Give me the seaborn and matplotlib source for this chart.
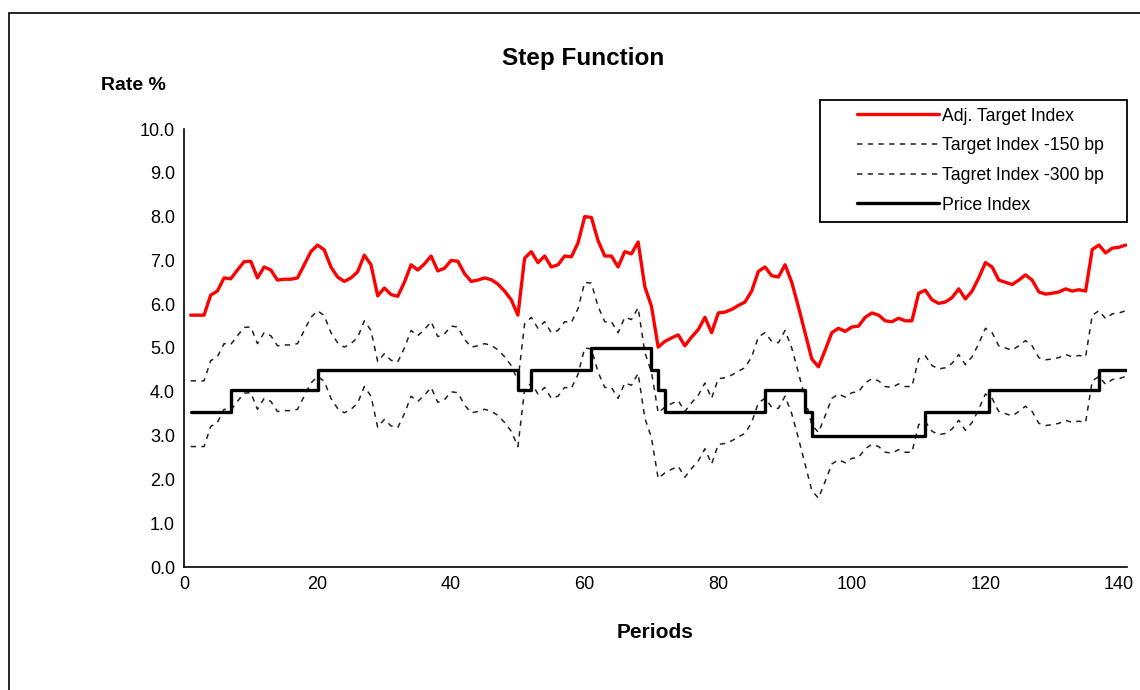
import matplotlib
matplotlib.use("Agg")
import matplotlib.pyplot as plt
from matplotlib.patches import Rectangle
import numpy as np
import pandas as pd
import seaborn as sns

# ---------------- data ----------------
periods = list(range(1, 142))
adj_target = [
    5.75, 5.75, 5.75, 6.21, 6.30, 6.60, 6.58, 6.78, 6.97, 6.98,
    6.60, 6.85, 6.78, 6.55, 6.57, 6.57, 6.60, 6.90, 7.20, 7.35,
    7.24, 6.85, 6.62, 6.52, 6.60, 6.74, 7.12, 6.90, 6.19, 6.37,
    6.22, 6.18, 6.50, 6.90, 6.78, 6.92, 7.10, 6.76, 6.82, 7.00,
    6.98, 6.70, 6.52, 6.55, 6.60, 6.56, 6.46, 6.30, 6.10, 5.75,
    7.05, 7.20, 6.95, 7.10, 6.85, 6.90, 7.10, 7.08, 7.40, 8.00,
    7.98, 7.45, 7.10, 7.10, 6.85, 7.20, 7.15, 7.42, 6.40, 5.95,
    5.02, 5.15, 5.23, 5.30, 5.05, 5.25, 5.42, 5.70, 5.35, 5.80,
    5.82, 5.88, 5.97, 6.05, 6.30, 6.75, 6.85, 6.65, 6.62, 6.90,
    6.50, 5.94, 5.34, 4.75, 4.57, 4.95, 5.35, 5.45, 5.38, 5.48,
    5.50, 5.70, 5.80, 5.75, 5.62, 5.60, 5.68, 5.62, 5.62, 6.25,
    6.32, 6.10, 6.02, 6.05, 6.15, 6.35, 6.12, 6.30, 6.60, 6.95,
    6.85, 6.55, 6.50, 6.45, 6.55, 6.67, 6.55, 6.28, 6.23, 6.25,
    6.28, 6.35, 6.30, 6.33, 6.30, 7.25, 7.35, 7.17, 7.28, 7.30,
    7.35,
]
spread_bp = [150, 300]
price_change_periods = [1, 7, 20, 50, 52, 61, 70, 71, 72, 87, 93, 94, 111, 120.5, 137, 141]
price_levels = [3.55, 4.05, 4.50, 4.05, 4.50, 5.00, 4.50, 4.05, 3.55, 4.05, 3.55, 3.00, 3.55, 4.05, 4.50, 4.50]

labels = ["Adj. Target Index", "Target Index -150 bp", "Tagret Index -300 bp", "Price Index"]
title = "Step Function"
x_title = "Periods"
y_title = "Rate %"
x_ticks = [0, 20, 40, 60, 80, 100, 120, 140]
y_ticks = [0, 1, 2, 3, 4, 5, 6, 7, 8, 9, 10]

# ---------------- frames ----------------
adj = np.array(adj_target)
df_adj = pd.DataFrame({"Period": periods, "Rate": adj})
df_150 = pd.DataFrame({"Period": periods, "Rate": adj - spread_bp[0] / 100.0})
df_300 = pd.DataFrame({"Period": periods, "Rate": adj - spread_bp[1] / 100.0})
df_price = pd.DataFrame({"Period": price_change_periods, "Rate": price_levels})

# ---------------- style ----------------
sns.set_theme(style="white")
plt.rcParams["font.family"] = ["Liberation Sans", "DejaVu Sans"]
tick_family = ["Liberation Sans", "DejaVu Sans"]

W, H = 1140, 690
fig = plt.figure(figsize=(W / 100, H / 100), dpi=100)
fig.patch.set_facecolor("white")
ax = fig.add_axes([184 / W, 1 - 567 / H, (1127 - 184) / W, (567 - 129) / H])
ax.set_facecolor("white")

sns.lineplot(data=df_adj, x="Period", y="Rate", ax=ax, color="#ff0000", lw=2.4,
             label=labels[0], zorder=4)
sns.lineplot(data=df_150, x="Period", y="Rate", ax=ax, color="#222222", lw=1.1,
             linestyle=(0, (3.5, 3.5)), label=labels[1], zorder=3)
sns.lineplot(data=df_300, x="Period", y="Rate", ax=ax, color="#222222", lw=1.1,
             linestyle=(0, (3.5, 3.5)), label=labels[2], zorder=3)
sns.lineplot(data=df_price, x="Period", y="Rate", ax=ax, color="black", lw=2.4,
             drawstyle="steps-post", label=labels[3], zorder=5)

ax.set_xlim(0, 141.2)
ax.set_ylim(0, 10)
ax.set_xticks(x_ticks)
ax.set_yticks(y_ticks)
ax.set_xticklabels([str(v) for v in x_ticks], family=tick_family, fontsize=13)
ax.set_yticklabels([f"{v:.1f}" for v in y_ticks], family=tick_family, fontsize=13)
ax.set_xlabel("")
ax.set_ylabel("")
for s in ["top", "right"]:
    ax.spines[s].set_visible(False)
for s in ["left", "bottom"]:
    ax.spines[s].set_color("black")
    ax.spines[s].set_linewidth(1.2)
ax.tick_params(axis="both", direction="inout", length=7, width=1.2, color="black",
               labelcolor="black", pad=3)
ax.grid(False)

leg = ax.legend(loc="upper left", bbox_to_anchor=(853 / W, 1 - 104 / H),
                bbox_transform=fig.transFigure, borderaxespad=0, frameon=False,
                handlelength=4.65, handletextpad=0.22, labelspacing=0.72, borderpad=0.2,
                prop={"family": ["Liberation Sans", "DejaVu Sans"], "size": 12.7})
for t in leg.get_texts():
    t.set_color("black")
leg.set_zorder(8)

# legend box drawn as its own frame, beneath the legend entries
box = Rectangle((820 / W, 1 - 222 / H), (1127 - 820) / W, (222 - 100) / H,
                transform=fig.transFigure, fill=True, facecolor="white",
                edgecolor="black", lw=1.3, zorder=7, clip_on=False)
ax.add_patch(box)

fig.text(583 / W, 1 - 59 / H, title, ha="center", va="center", fontsize=17.5,
         fontweight="bold", family=tick_family, color="black")
fig.text(101 / W, 1 - 86 / H, y_title, ha="left", va="center", fontsize=14,
         fontweight="bold", family=tick_family, color="black")
fig.text(655 / W, 1 - 632 / H, x_title, ha="center", va="center", fontsize=15,
         fontweight="bold", family=tick_family, color="black")

frame = Rectangle((9 / W, -0.1), 1.2, 1 - 13 / H + 0.1, transform=fig.transFigure,
                  fill=False, edgecolor="black", lw=1.2, clip_on=False, zorder=0)
fig.patches.append(frame)

fig.savefig("out.png", dpi=100, facecolor="white")
